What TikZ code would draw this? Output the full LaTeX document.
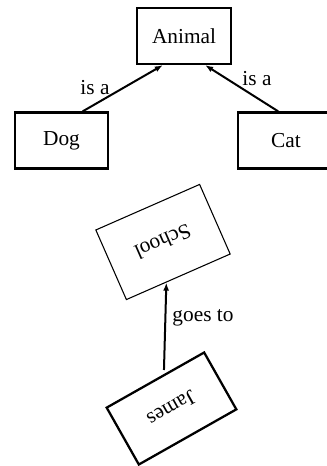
\documentclass[tikz,border=0pt]{standalone}
\usepackage{fontspec}
\setmainfont{Liberation Serif}
\usepackage{tikz}
\usetikzlibrary{arrows.meta}

\begin{document}
\begin{tikzpicture}[x=0.75pt, y=-0.75pt,
  every node/.style={font=\fontsize{16}{18}\selectfont},
  classbox/.style={draw, line width=1.7pt, minimum width=70pt, minimum height=42pt},
  link/.style={-{Latex[length=6pt,width=4.5pt]}, line width=1.5pt}]
\useasboundingbox (0,0) rectangle (327,466);
\node[classbox] (animal) at (184,36) {Animal};
\node[classbox] (dog) at (61.5,140.5) {Dog};
\node[classbox, minimum width=72pt] (cat) at (286,140.5) {Cat};
\node[draw, line width=0.8pt, minimum width=85pt, minimum height=57pt, rotate=203.7] (school) at (163,242) {School};
\node[classbox, minimum width=84pt, minimum height=49pt, rotate=209.5] (james) at (171.5,408.5) {James};
\draw[link] (dog.54) -- (animal.234);
\draw[link] (cat.105) -- (animal.306);
\draw[link, shorten <=3pt] (james.253) -- (school.71);
\node (isadog) at (95,88) {is a};
\node (isacat) at (257,79) {is a};
\node (goesto) at (203,318) {goes to};
\end{tikzpicture}
\end{document}
